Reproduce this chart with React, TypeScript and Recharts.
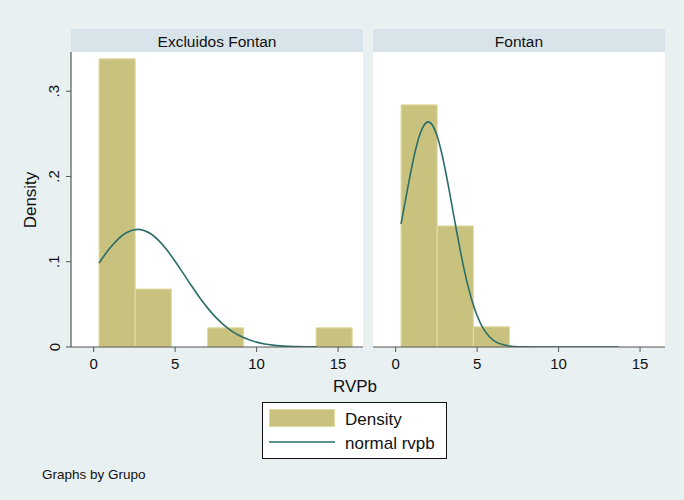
import {
  CartesianGrid,
  ComposedChart,
  Line,
  ReferenceArea,
  XAxis,
  YAxis,
} from "recharts";

// Histogram bin edges shared by both panels (RVPb)
const binEdges = [0.33, 2.55, 4.77, 6.99, 9.21, 11.43, 13.65, 15.87];
// Density per bin
const densityExcluidos = [0.338, 0.068, 0, 0.0225, 0, 0, 0.0225];
const densityFontan = [0.284, 0.142, 0.0237, 0, 0, 0, 0];

// Normal overlay "normal rvpb"
const curveExcluidosX = [0.33, 1, 1.5, 2, 2.7, 3.5, 4, 4.5, 5, 5.5, 6, 6.5, 7, 7.5, 8, 8.5, 9, 9.5, 10, 10.5, 11, 11.5, 12, 12.5, 13, 13.7];
const curveExcluidosY = [0.0986, 0.116, 0.1266, 0.134, 0.138, 0.1328, 0.1248, 0.1137, 0.1005, 0.0863, 0.0719, 0.0581, 0.0456, 0.0347, 0.0257, 0.0184, 0.0128, 0.0087, 0.0057, 0.0036, 0.0022, 0.0013, 0.0008, 0.0004, 0.0002, 0.0001];
const curveFontanX = [0.33, 0.75, 1, 1.25, 1.5, 1.75, 2, 2.25, 2.5, 2.75, 3, 3.25, 3.5, 3.75, 4, 4.25, 4.5, 4.75, 5, 5.5, 6, 6.5, 7, 7.5, 8, 9, 10, 11, 12, 13, 13.7];
const curveFontanY = [0.144, 0.1874, 0.212, 0.2334, 0.25, 0.2604, 0.264, 0.2604, 0.25, 0.2334, 0.212, 0.1874, 0.1612, 0.1349, 0.1098, 0.087, 0.067, 0.0503, 0.0367, 0.018, 0.0079, 0.0031, 0.0011, 0.0003, 0.0001, 0, 0, 0, 0, 0, 0];

const xTicks = [0, 5, 10, 15];
const yTicks = [0, 0.1, 0.2, 0.3];
const panelTitles = ["Excluidos Fontan", "Fontan"];

const FONT = '"Liberation Sans", Arial, sans-serif';
const BG = "#e8f0f2";
const STRIP = "#d9e4ea";
const BAR = "#c9c27f";
const BAR_EDGE = "#e2dca4";
const CURVE = "#2a6d69";
const AXIS = "#555555";
const GRID = "#e4ecef";

const fmtY = (v: number) => (v === 0 ? "0" : String(v).replace(/^0/, ""));

function YTick(props: any) {
  const { x, y, payload } = props;
  const cx = x - 4;
  return (
    <text
      x={cx}
      y={y}
      transform={`rotate(-90, ${cx}, ${y})`}
      textAnchor="middle"
      dominantBaseline="central"
      fontSize={15}
      fontFamily={FONT}
      fill="#111"
    >
      {fmtY(payload.value)}
    </text>
  );
}

function Panel({
  density,
  cx,
  cy,
  showY,
}: {
  density: number[];
  cx: number[];
  cy: number[];
  showY: boolean;
}) {
  const data = cx.map((x, i) => ({ x, y: cy[i] }));
  const width = showY ? 363 : 292;
  return (
    <ComposedChart
      width={width}
      height={330}
      data={data}
      margin={{ top: 0, right: 0, bottom: 0, left: 0 }}
      style={{ background: "transparent" }}
    >
      <rect x={showY ? 71 : 0} y={0} width={292} height={295} fill="#fff" />
      <CartesianGrid horizontal vertical={false} stroke={GRID} strokeWidth={1} />
      <XAxis
        type="number"
        dataKey="x"
        domain={[-1.39, 16.53]}
        ticks={xTicks}
        allowDataOverflow
        height={35}
        tickSize={5}
        tickMargin={6}
        axisLine={{ stroke: AXIS, strokeWidth: 1.2 }}
        tickLine={{ stroke: AXIS }}
        tick={{ fontSize: 15, fill: "#111", fontFamily: FONT }}
      />
      <YAxis
        type="number"
        domain={[0, 0.346]}
        ticks={yTicks}
        allowDataOverflow
        hide={!showY}
        width={71}
        tickSize={5}
        tickMargin={8}
        axisLine={{ stroke: AXIS, strokeWidth: 1.2 }}
        tickLine={{ stroke: AXIS }}
        tick={<YTick />}
      />
      {density.map((d, i) =>
        d > 0 ? (
          <ReferenceArea
            key={i}
            x1={binEdges[i]}
            x2={binEdges[i + 1]}
            y1={0}
            y2={d}
            fill={BAR}
            fillOpacity={1}
            stroke={BAR_EDGE}
            strokeWidth={1}
            ifOverflow="visible"
          />
        ) : null,
      )}
      <Line
        type="monotone"
        dataKey="y"
        stroke={CURVE}
        strokeWidth={1.6}
        dot={false}
        activeDot={false}
        isAnimationActive={false}
      />
    </ComposedChart>
  );
}

export default function App() {
  return (
    <div
      style={{
        position: "absolute",
        left: 0,
        top: 0,
        width: 684,
        height: 500,
        background: BG,
        fontFamily: FONT,
        overflow: "hidden",
      }}
    >
      <svg width={684} height={500} style={{ position: "absolute", left: 0, top: 0 }}>
        {/* strip headers */}
        <rect x={71} y={29} width={292} height={23} fill={STRIP} />
        <rect x={373} y={29} width={292} height={23} fill={STRIP} />
        <text x={217} y={41} textAnchor="middle" dominantBaseline="central" fontSize={15.5} fill="#111">
          {panelTitles[0]}
        </text>
        <text x={519} y={41} textAnchor="middle" dominantBaseline="central" fontSize={15.5} fill="#111">
          {panelTitles[1]}
        </text>
        {/* axis titles */}
        <text
          x={30}
          y={200}
          transform="rotate(-90, 30, 200)"
          textAnchor="middle"
          dominantBaseline="central"
          fontSize={17}
          fill="#111"
        >
          Density
        </text>
        <text x={355} y={386} textAnchor="middle" dominantBaseline="central" fontSize={17} fill="#111">
          RVPb
        </text>
        {/* legend */}
        <rect x={262.5} y={402.5} width={184} height={56} fill="#fff" stroke="#111" strokeWidth={1} />
        <rect x={269.5} y={409.5} width={65} height={17} fill={BAR} stroke={BAR_EDGE} strokeWidth={1} />
        <line x1={269} y1={442} x2={335} y2={442} stroke={CURVE} strokeWidth={1.6} />
        <text x={345} y={419} dominantBaseline="central" fontSize={17} fill="#111">
          Density
        </text>
        <text x={345} y={443} dominantBaseline="central" fontSize={17} fill="#111">
          normal rvpb
        </text>
        <text x={42} y={474} dominantBaseline="central" fontSize={13.5} fill="#111">
          Graphs by Grupo
        </text>
      </svg>
      <div style={{ position: "absolute", left: 0, top: 52 }}>
        <Panel density={densityExcluidos} cx={curveExcluidosX} cy={curveExcluidosY} showY />
      </div>
      <div style={{ position: "absolute", left: 373, top: 52 }}>
        <Panel density={densityFontan} cx={curveFontanX} cy={curveFontanY} showY={false} />
      </div>
    </div>
  );
}
